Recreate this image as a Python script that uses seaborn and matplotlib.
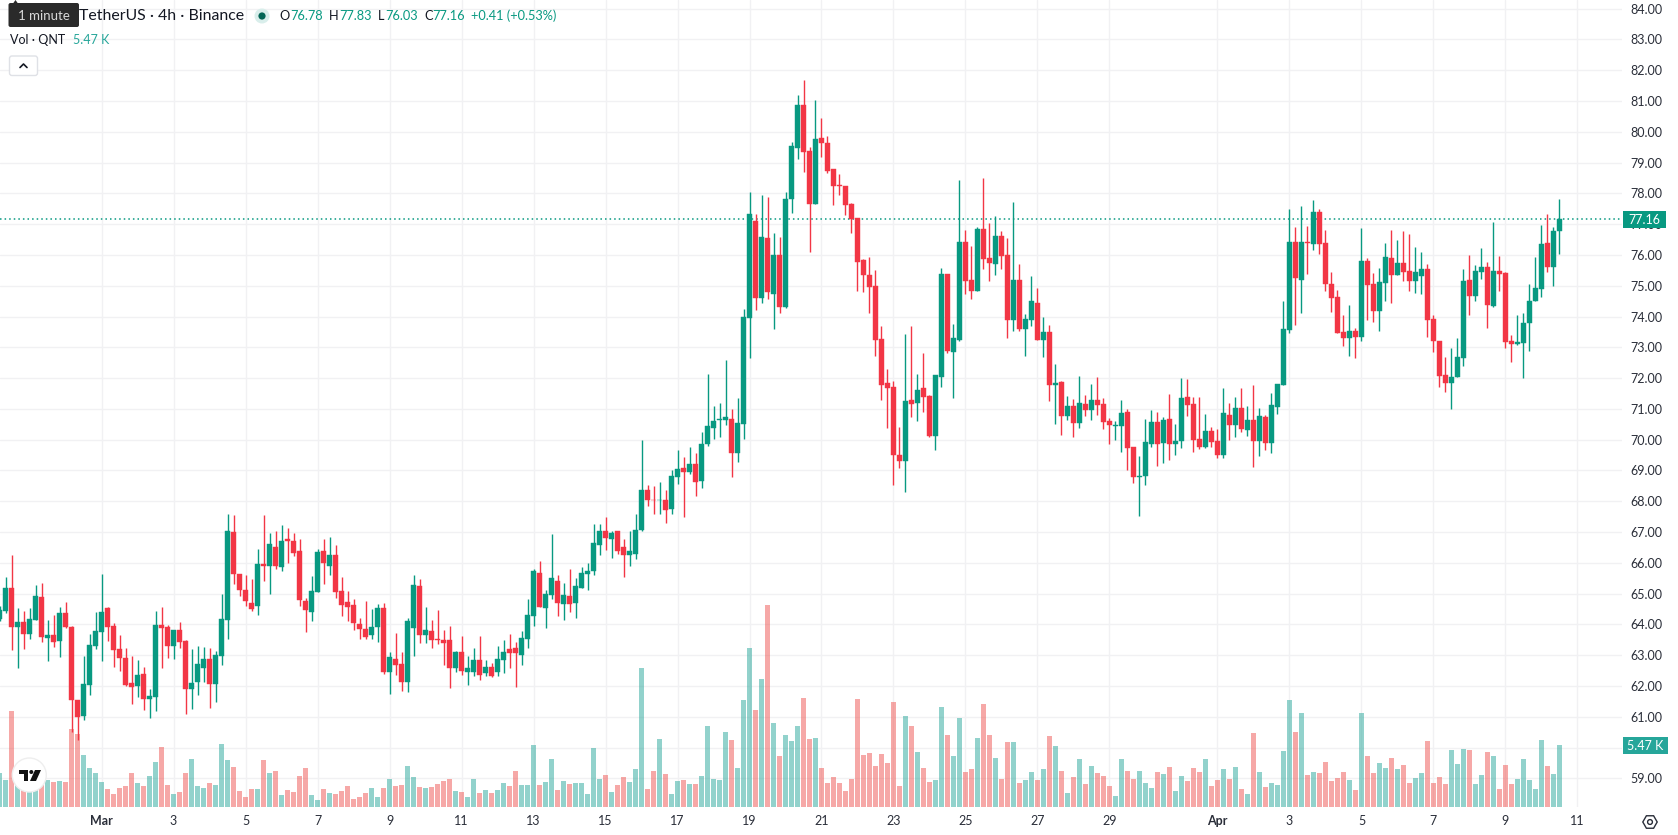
import numpy as np
import pandas as pd
import matplotlib
matplotlib.use("Agg")
import matplotlib.pyplot as plt
from matplotlib.patches import Circle, FancyBboxPatch, Polygon, Rectangle, RegularPolygon
from matplotlib.lines import Line2D
import seaborn as sns

# QNT/USDT 4h candles, 26 Feb to 10 Apr
opens = [64.16,64.42,65.17,63.91,64.07,63.68,64.13,64.88,63.55,63.65,63.45,64.36,63.91,61.54,61.02,62.02,63.29,
 63.74,64.52,63.94,63.19,62.90,62.09,61.99,62.38,61.57,61.63,63.97,63.91,63.29,63.81,63.45,61.89,62.12,62.57,62.87,62.05,62.96,
 64.13,66.99,65.63,65.11,64.68,64.59,65.95,65.89,66.53,65.85,66.76,66.70,66.40,64.75,64.39,65.04,66.37,65.89,66.27,65.07,64.72,64.62,64.00,63.84,63.65,63.91,64.52,62.44,62.87,62.70,62.12,
 63.87,65.26,63.67,63.77,63.54,63.51,63.48,62.57,63.09,62.47,62.44,62.83,62.41,62.63,62.44,62.86,63.19,63.22,63.02,63.54,64.26,65.68,64.52,64.94,65.42,64.65,64.91,64.71,65.17,65.65,65.75,66.59,67.05,66.79,67.02,66.50,66.24,66.30,67.08,68.38,68.05,68.03,68.05,67.76,68.80,69.09,68.96,69.22,
 68.65,69.86,70.38,70.65,70.64,70.67,69.57,70.51,73.95,77.10,74.60,76.54,74.73,75.99,74.30,77.81,79.47,80.86,79.37,77.65,79.79,79.63,78.78,78.26,78.23,77.65,77.19,75.83,75.34,74.99,73.27,71.84,71.71,69.50,69.31,71.29,71.19,71.67,71.42,70.12,72.03,75.38,72.84,73.23,76.41,75.18,74.82,76.84,75.90,75.70,76.61,75.99,73.88,75.18,73.59,73.88,74.43,73.23,73.49,71.77,71.87,70.77,71.09,70.54,
 71.16,70.96,71.29,71.16,70.61,70.45,70.45,70.90,69.76,68.79,68.82,69.86,70.57,69.89,70.67,69.86,69.96,71.39,71.16,70.02,69.76,70.28,69.96,69.50,70.80,70.48,71.03,70.32,70.64,69.96,70.74,69.89,71.06,71.78,73.56,76.42,75.18,76.42,76.35,77.39,76.39,75.05,74.63,73.50,73.30,73.53,73.33,
 75.80,75.05,74.18,75.09,75.90,75.35,75.74,75.48,75.15,75.31,75.54,73.92,73.20,72.10,71.84,72.04,72.65,75.18,74.66,75.44,75.61,74.34,75.48,75.41,73.20,73.11,73.14,73.79,74.50,74.89,76.39,75.61,76.78]
highs = [64.60,65.53,66.27,64.52,64.42,64.52,65.27,65.33,64.13,64.29,64.55,64.72,63.94,61.54,62.99,63.68,64.39,
 65.63,64.55,64.03,63.65,63.22,62.99,62.83,62.61,61.89,64.42,64.55,63.97,63.81,64.07,63.48,63.19,63.29,63.26,63.22,63.13,64.98,
 67.57,67.54,65.63,65.59,65.46,66.44,67.54,66.96,67.02,67.22,67.12,66.96,66.76,64.85,65.56,66.44,66.76,66.83,66.57,65.53,65.07,64.81,64.20,64.75,64.49,64.65,64.68,63.09,63.71,63.09,64.20,
 65.59,65.49,64.55,64.13,64.48,63.83,63.96,63.15,63.64,62.99,63.22,63.61,62.83,62.76,63.31,63.48,63.70,63.44,63.77,64.81,65.81,66.07,65.13,66.95,65.59,65.33,65.81,65.52,65.88,66.01,67.27,67.27,67.50,67.02,67.02,66.76,67.02,67.57,70.00,68.54,68.51,68.64,68.35,69.00,69.68,69.45,69.77,69.58,
 70.25,72.13,71.09,71.19,72.58,70.99,71.35,74.24,78.04,77.32,77.94,77.87,76.71,76.58,78.04,79.66,81.19,81.67,79.50,81.02,80.44,79.86,78.78,78.62,78.23,77.68,77.19,75.86,75.93,75.51,73.69,72.29,71.90,70.41,73.43,73.69,72.13,72.81,71.45,72.10,75.57,75.38,73.75,78.43,76.80,76.28,76.90,78.49,77.03,77.26,76.77,76.54,77.71,75.70,74.08,75.31,74.92,73.98,73.72,72.45,71.90,71.42,71.32,72.06,
 71.45,71.81,72.04,71.35,70.70,70.61,71.29,71.00,69.76,69.47,70.67,70.96,70.90,70.74,71.48,70.51,72.00,71.97,71.39,71.39,70.83,70.41,70.35,71.68,71.19,71.39,71.68,71.09,71.78,71.03,70.80,71.52,71.81,74.50,77.49,76.90,77.59,76.94,77.78,77.49,76.81,75.44,74.86,74.05,74.37,73.63,76.87,
 75.90,75.41,75.57,76.39,76.81,76.48,76.77,76.68,76.26,76.09,75.70,74.05,73.20,72.68,72.98,73.30,75.54,75.99,75.67,76.22,75.77,77.07,75.96,75.44,73.40,74.05,74.11,75.05,75.93,76.97,77.33,76.90,77.83]
lows = [64.10,64.36,63.16,62.57,63.19,63.52,64.13,63.42,62.80,63.26,62.93,63.87,60.49,60.24,60.89,61.70,63.19,
 62.80,63.45,62.61,62.48,61.99,61.41,61.63,61.21,60.95,61.18,62.57,62.90,62.87,63.22,61.08,61.24,61.70,62.12,61.28,61.47,62.67,
 63.52,65.30,64.91,64.59,64.42,64.29,65.40,64.98,65.79,65.72,65.98,66.21,64.59,63.74,64.10,65.04,65.30,65.59,64.85,64.26,64.10,63.81,63.52,63.52,63.52,63.42,62.38,61.73,62.35,61.83,61.80,
 62.99,63.41,63.41,63.25,63.35,62.67,61.95,62.47,62.37,62.02,62.31,62.18,62.31,62.28,62.34,62.41,62.57,61.98,62.67,63.25,63.96,64.58,63.87,64.84,64.26,64.13,64.39,64.22,65.17,65.13,65.62,66.27,66.43,66.17,66.30,65.55,65.91,66.14,67.05,67.86,67.57,67.57,67.31,67.60,68.57,67.50,68.87,68.18,
 68.43,69.79,70.02,70.09,70.47,68.79,69.27,70.02,72.65,74.21,74.43,74.56,73.59,74.11,74.27,77.36,79.11,78.69,76.09,77.65,79.17,78.65,77.62,77.94,77.29,76.71,74.82,74.79,74.11,72.71,71.29,70.38,68.53,69.08,68.30,70.73,70.60,70.90,70.08,69.66,71.71,72.81,71.35,73.20,74.73,74.56,74.82,75.54,75.15,75.34,75.54,73.30,73.53,73.53,72.71,73.69,73.23,72.68,71.25,70.51,70.15,70.64,70.09,70.38,
 70.77,70.64,70.80,70.35,69.86,70.00,69.60,69.02,68.59,67.52,68.53,69.76,69.15,69.24,69.34,69.50,69.73,70.77,69.60,69.70,69.73,69.76,69.41,69.41,70.00,70.09,70.25,70.12,69.11,69.47,69.67,69.57,70.83,71.78,73.46,73.72,74.11,75.38,76.16,76.03,74.83,74.15,73.46,73.04,72.72,72.65,73.20,
 73.89,73.82,73.53,74.50,74.44,75.35,75.15,74.83,74.76,74.73,73.33,72.85,71.71,71.55,71.00,72.04,72.39,74.05,74.50,75.22,73.63,74.31,74.83,72.98,72.52,73.07,72.00,72.88,74.50,74.63,75.44,74.99,76.03]
closes = [64.46,65.17,63.91,64.07,63.68,64.17,64.91,63.58,63.65,63.42,64.36,63.91,61.54,60.98,62.05,63.32,63.78,
 64.39,63.91,63.16,62.90,62.02,61.96,62.35,61.57,61.67,63.97,63.87,63.29,63.81,63.42,61.89,62.09,62.70,62.87,62.05,63.00,64.17,
 67.02,65.63,65.11,64.75,64.49,65.95,65.89,66.60,65.89,66.70,66.70,66.31,64.78,64.46,65.07,66.34,65.98,66.24,65.04,64.62,64.55,64.03,63.84,63.58,63.91,64.52,62.44,62.93,62.67,62.12,64.10,
 65.29,63.67,63.83,63.48,63.48,63.41,62.57,63.09,62.50,62.60,62.83,62.37,62.63,62.34,62.89,63.12,63.06,63.06,63.57,64.29,65.72,64.58,65.00,65.52,64.68,64.97,64.65,65.26,65.68,65.72,66.63,67.05,66.82,66.98,66.40,66.24,66.37,67.08,68.38,68.05,68.03,68.05,67.73,68.83,69.06,68.96,69.22,68.64,
 69.86,70.44,70.60,70.67,70.73,69.57,70.54,73.98,77.32,74.60,76.58,74.79,75.99,74.30,77.81,79.53,80.86,79.34,77.65,79.76,79.63,78.72,78.23,78.24,77.62,77.16,75.76,75.34,74.95,73.23,71.77,71.67,69.50,69.31,71.25,71.16,71.61,71.38,70.12,72.10,75.38,72.88,73.30,76.41,75.15,74.82,76.84,75.86,75.73,76.61,75.96,73.88,75.18,73.59,73.92,74.50,73.23,73.49,71.77,71.84,70.77,71.09,70.54,71.19,
 70.96,71.29,71.13,70.57,70.48,70.48,70.87,69.73,68.79,68.82,69.93,70.57,69.86,70.64,69.86,69.96,71.35,71.13,70.00,69.76,70.28,69.93,69.50,70.87,70.48,71.03,70.35,70.64,69.96,70.77,69.89,71.13,71.81,73.59,76.42,75.25,76.42,76.40,77.39,76.35,75.05,74.60,73.46,73.30,73.53,73.33,75.80,
 75.02,74.18,75.12,75.93,75.35,75.74,75.44,75.15,75.44,75.54,73.89,73.20,72.07,71.84,72.04,72.68,75.15,74.66,75.48,75.61,74.37,75.48,75.38,73.17,73.11,73.17,73.79,74.50,74.92,76.35,75.61,76.78,77.16]

# Volume per candle, thousands of QNT
volumes = [2.99,2.37,8.49,2.37,1.92,1.77,2.07,2.07,2.37,2.19,2.28,2.19,6.89,6.45,4.58,3.43,2.99,
 2.19,1.57,1.12,1.66,1.83,2.99,2.10,1.83,2.72,3.96,5.29,1.92,1.12,1.30,2.99,4.23,1.83,1.66,2.10,1.92,5.56,
 4.14,3.52,1.39,0.86,1.57,1.57,4.14,2.99,3.16,1.04,1.48,1.30,2.72,3.43,1.04,0.59,1.57,1.21,1.12,1.39,1.83,0.68,0.86,1.21,1.66,0.86,1.66,2.45,1.83,1.92,3.64,
 2.66,1.77,1.69,1.77,2.04,2.31,2.48,1.42,1.33,0.89,2.48,1.24,1.51,1.24,1.51,2.13,1.86,3.19,1.95,1.95,5.50,1.95,2.22,4.26,1.51,2.31,2.04,2.13,2.13,1.15,5.23,2.48,2.84,1.33,1.95,2.66,2.22,3.37,12.33,1.60,3.19,6.03,2.93,1.15,2.31,2.39,2.04,2.04,
 2.75,7.18,2.48,2.39,6.65,5.94,3.46,9.49,14.10,8.60,11.35,17.92,7.45,4.52,6.39,5.85,7.18,9.67,6.03,6.12,3.46,2.13,2.66,2.13,1.42,2.48,9.58,4.61,4.79,3.64,4.70,3.90,9.31,1.86,8.07,7.18,4.88,3.46,2.22,2.39,8.87,6.39,4.52,7.89,3.10,3.37,6.12,9.14,6.39,4.35,2.48,5.77,5.77,2.13,2.39,3.10,2.39,3.37,6.30,5.41,3.19,1.24,2.66,4.26,
 2.04,3.64,3.02,2.75,1.86,0.98,4.26,3.19,2.48,3.19,2.13,1.69,3.10,2.93,3.55,1.42,2.72,2.28,3.43,3.07,4.23,1.83,2.37,3.34,2.45,3.52,1.57,1.12,6.53,3.07,1.74,2.10,1.92,4.94,9.46,6.62,8.31,2.81,3.07,2.99,3.96,2.28,2.54,3.07,2.37,1.48,8.31,
 4.49,2.99,3.87,3.43,4.32,3.34,3.70,2.10,2.54,2.99,5.82,2.10,2.63,2.01,5.03,3.78,5.11,5.03,2.01,2.81,4.85,4.49,1.57,3.70,2.01,2.45,4.23,2.37,1.57,5.91,3.61,2.90,5.47]

price_ticks = list(range(59, 85))
time_tick_dates = ["2025-03-01", "2025-03-03", "2025-03-05", "2025-03-07", "2025-03-09", "2025-03-11",
                   "2025-03-13", "2025-03-15", "2025-03-17", "2025-03-19", "2025-03-21", "2025-03-23",
                   "2025-03-25", "2025-03-27", "2025-03-29", "2025-04-01", "2025-04-03", "2025-04-05",
                   "2025-04-07", "2025-04-09", "2025-04-11"]
time_tick_labels = ["Mar", "3", "5", "7", "9", "11", "13", "15", "17", "19", "21", "23",
                    "25", "27", "29", "Apr", "3", "5", "7", "9", "11"]

last_price = 77.16
last_volume = 5.47

UP = "#089981"
DOWN = "#f23645"
VOL_UP = "#26a69a"
VOL_DOWN = "#ef5350"
GRID = "#f1f1f3"
INK = "#131722"
AXIS_INK = "#2a2e39"
TICK_SIZE = 9.0
LEGEND_SIZE = 9.2

W, H = 1678, 835
PANE_RIGHT, PANE_BOTTOM = 1622.0, 807.0

sns.set_theme(style="white")
plt.rcParams["font.family"] = ["Lato", "DejaVu Sans"]

frame = pd.DataFrame({"open": opens, "high": highs, "low": lows, "close": closes, "volume": volumes})
frame["bar"] = np.arange(len(frame)) - 17
frame["side"] = np.where(frame["close"] >= frame["open"], "up", "down")


def bar_of(day):
    return (pd.Timestamp(day) - pd.Timestamp("2025-03-01")) / pd.Timedelta(hours=4)


fig = plt.figure(figsize=(W / 100, H / 100), dpi=100, facecolor="white")
rect = [0, 1 - PANE_BOTTOM / H, PANE_RIGHT / W, PANE_BOTTOM / H]
ax_grid = fig.add_axes(rect, zorder=0)
ax_vol = fig.add_axes(rect, zorder=1, facecolor="none")
ax_price = fig.add_axes(rect, zorder=2, facecolor="none")

x_limits = (-16.92, 253.42)
y_limits = (58.07, 84.28)

# Grid and both axis scales live on the backmost axes
ax_grid.set_xlim(x_limits)
ax_grid.set_ylim(y_limits)
ax_grid.yaxis.tick_right()
ax_grid.set_yticks(price_ticks)
ax_grid.set_yticklabels([f"{p:.2f}" for p in price_ticks], fontsize=TICK_SIZE, color=AXIS_INK)
ax_grid.set_xticks([bar_of(d) for d in time_tick_dates])
ax_grid.set_xticklabels(time_tick_labels, fontsize=TICK_SIZE, color=AXIS_INK)
for tick_label, text in zip(ax_grid.get_xticklabels(), time_tick_labels):
    if text in ("Mar", "Apr"):
        tick_label.set_fontweight("bold")
ax_grid.tick_params(axis="y", length=0, pad=5.8)
ax_grid.tick_params(axis="x", length=0, pad=5.5)
ax_grid.grid(True, color=GRID, linewidth=1.0)
ax_grid.set_axisbelow(True)
for spine in ax_grid.spines.values():
    spine.set_visible(False)

# Volume histogram on its own scale along the bottom of the pane
sns.barplot(data=frame, x="bar", y="volume", hue="side", hue_order=["up", "down"],
            palette={"up": VOL_UP, "down": VOL_DOWN}, native_scale=True, dodge=False,
            width=0.82, saturation=1, alpha=0.5, linewidth=0, legend=False, ax=ax_vol)
ax_vol.set_xlim(x_limits)
ax_vol.set_ylim(0, 71.6)
ax_vol.axis("off")

# Candles: wicks then bodies
ax_price.set_xlim(x_limits)
ax_price.set_ylim(y_limits)
ax_price.axis("off")
ax_price.axhline(last_price, color=UP, linewidth=1.1, linestyle=(0, (1, 2)), zorder=1)
for side, colour in (("up", UP), ("down", DOWN)):
    part = frame[frame["side"] == side]
    ax_price.vlines(part["bar"], part["low"], part["high"], color=colour, linewidth=1.0, zorder=2)
    ax_price.bar(part["bar"], (part["close"] - part["open"]).abs(),
                 bottom=part[["open", "close"]].min(axis=1), width=0.8,
                 color=colour, edgecolor=colour, linewidth=0.3, zorder=3)


# Pixel-addressed overlay for the chart furniture
overlay = fig.add_axes([0, 0, 1, 1], zorder=5, facecolor="none")
overlay.set_xlim(0, W)
overlay.set_ylim(H, 0)
overlay.axis("off")


def label(x, y, text, color=INK, size=LEGEND_SIZE, ha="left", weight="normal"):
    overlay.text(x, y, text, color=color, fontsize=size, ha=ha, va="center", fontweight=weight)


# Legend rows
label(79, 16, "TetherUS · 4h · Binance", size=11.4)
overlay.add_patch(Circle((262, 16), 7.5, facecolor="#d9eeeb", edgecolor="none"))
overlay.add_patch(Circle((262, 16), 3.6, facecolor="#056656", edgecolor="none"))
label(279, 16, "O")
label(290, 16, f"{opens[-1]:.2f}", UP)
label(329, 16, "H")
label(339, 16, f"{highs[-1]:.2f}", UP)
label(378, 16, "L")
label(385, 16, f"{lows[-1]:.2f}", UP)
label(424, 16, "C")
label(432, 16, f"{closes[-1]:.2f}", UP)
label(471, 16, "+0.41 (+0.53%)", UP)
label(9.5, 40.5, "Vol · QNT", size=9.0)
label(73, 40.5, "5.47 K", VOL_UP, size=9.0)

# Collapse button
overlay.add_patch(FancyBboxPatch((9.5, 56), 28, 19.5, boxstyle="round,pad=0,rounding_size=2.5",
                                 facecolor="white", edgecolor="#dfe1e6", linewidth=1))
overlay.add_line(Line2D([20, 23.5, 27], [67.5, 64, 67.5], color=INK, linewidth=1.2))

# Tooltip covering the start of the title
overlay.add_patch(Polygon([(13, 3.5), (15.5, 0), (18, 3.5)], facecolor="#2a2a2a", edgecolor="none"))
overlay.add_patch(FancyBboxPatch((8.5, 3), 70.5, 24, boxstyle="round,pad=0,rounding_size=2",
                                 facecolor="#2a2a2a", edgecolor="none"))
label(43.5, 15.5, "1 minute", "#d8d8d8", size=9.5, ha="center")

# Last price and last volume tags on the scale
overlay.add_patch(Rectangle((1623, 211), 43, 17, facecolor=UP, edgecolor="none"))
label(1644.5, 219.5, f"{last_price:.2f}", "white", size=TICK_SIZE, ha="center")
overlay.add_patch(Rectangle((1623, 737), 45, 17, facecolor=VOL_UP, edgecolor="none"))
label(1645.5, 745.5, f"{last_volume:.2f} K", "white", size=TICK_SIZE, ha="center")

# Settings glyph in the scale corner
overlay.add_patch(RegularPolygon((1650, 822), 6, radius=7.2, orientation=np.pi / 6,
                                 facecolor="white", edgecolor=AXIS_INK, linewidth=1))
overlay.add_patch(Circle((1650, 822), 2.4, facecolor="white", edgecolor=AXIS_INK, linewidth=1))

# Round logo badge over the volume bars
overlay.add_patch(Circle((29.3, 775), 17, facecolor="white", edgecolor="#eeeeee", linewidth=1))
overlay.add_patch(Polygon([(19, 770), (28, 770), (28, 781), (24, 781), (24, 774), (19, 774)],
                          facecolor="#111111", edgecolor="none"))
overlay.add_patch(Circle((31.3, 772), 2, facecolor="#111111", edgecolor="none"))
overlay.add_patch(Polygon([(35, 770), (41, 770), (36, 781), (30, 781)], facecolor="#111111", edgecolor="none"))

fig.savefig("out.png", dpi=100, facecolor="white")
